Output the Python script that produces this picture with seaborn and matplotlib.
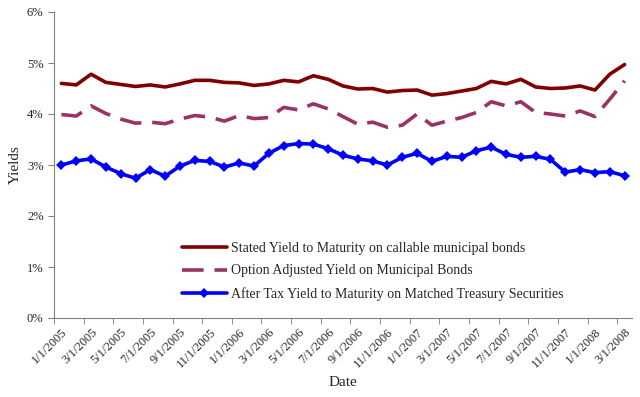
import numpy as np
import pandas as pd
import seaborn as sns
import matplotlib.pyplot as plt

months = pd.date_range("2005-01-01", "2008-03-01", freq="MS")
labels = [f"{d.month}/1/{d.year}" for d in months]

stated = [4.60, 4.57, 4.78, 4.62, 4.58, 4.54, 4.57, 4.53, 4.59, 4.66,
          4.66, 4.62, 4.61, 4.56, 4.59, 4.66, 4.63, 4.75, 4.68, 4.55,
          4.49, 4.50, 4.43, 4.46, 4.47, 4.37, 4.40, 4.45, 4.50, 4.64,
          4.59, 4.68, 4.53, 4.50, 4.51, 4.55, 4.47, 4.78, 4.97]
option_adj = [3.99, 3.96, 4.16, 4.01, 3.90, 3.82, 3.84, 3.81, 3.90, 3.97,
              3.94, 3.86, 3.97, 3.91, 3.93, 4.13, 4.08, 4.20, 4.10, 3.95,
              3.80, 3.84, 3.74, 3.78, 4.00, 3.78, 3.86, 3.93, 4.03, 4.24,
              4.16, 4.24, 4.03, 4.00, 3.96, 4.06, 3.95, 4.29, 4.65]
after_tax = [3.00, 3.08, 3.12, 2.96, 2.83, 2.74, 2.91, 2.78, 2.98, 3.09,
             3.07, 2.96, 3.04, 2.98, 3.23, 3.38, 3.42, 3.41, 3.32, 3.19,
             3.12, 3.08, 3.00, 3.15, 3.23, 3.07, 3.17, 3.15, 3.28, 3.35,
             3.21, 3.15, 3.17, 3.11, 2.86, 2.91, 2.85, 2.87, 2.79]

names = ["Stated Yield to Maturity on callable municipal bonds",
         "Option Adjusted Yield on Municipal Bonds",
         "After Tax Yield to Maturity on Matched Treasury Securities"]

sns.set_style("white")
plt.rcParams['font.family'] = ['Liberation Serif', 'DejaVu Serif']

fig = plt.figure(figsize=(6.4, 3.97), dpi=100)
ax = fig.add_axes([54 / 640, 1 - 318 / 397, 578 / 640, 306 / 397])

x = np.arange(len(months))
sns.lineplot(x=x, y=np.array(stated) / 100, ax=ax, color="#800000",
             linewidth=2.6, label=names[0])
sns.lineplot(x=x, y=np.array(option_adj) / 100, ax=ax, color="#993366",
             linewidth=2.6, label=names[1], dashes=False)
ax.lines[-1].set_dashes([6, 3])
sns.lineplot(x=x, y=np.array(after_tax) / 100, ax=ax, color="#0000FF",
             linewidth=2.6, marker="D", markersize=5, markeredgewidth=0,
             label=names[2])

ax.set_xlim(-0.5, len(months) - 0.5)
ax.set_ylim(0, 0.06)
ax.set_yticks(np.arange(0, 0.061, 0.01))
ax.set_yticklabels([f"{i}%" for i in range(7)], fontsize=9)
ax.set_xticks(x[::2])
ax.set_xticklabels(labels[::2], rotation=45, ha="right",
                   rotation_mode="anchor", fontsize=9)
ax.set_xticks(np.arange(-0.5, len(months), 2), minor=True)
ax.tick_params(axis="x", which="major", length=0, pad=6)
ax.tick_params(axis="x", which="minor", length=4, color="#808080",
               direction="out", bottom=True)
ax.tick_params(axis="y", length=4, color="#808080", direction="out",
               left=True)
ax.set_xlabel("Date", fontsize=11)
ax.set_ylabel("Yields", fontsize=11)

for side in ["top", "right"]:
    ax.spines[side].set_visible(False)
for side in ["left", "bottom"]:
    ax.spines[side].set_color("#808080")
    ax.spines[side].set_linewidth(0.8)

ax.legend(loc="lower left", bbox_to_anchor=(0.2, 0.015), frameon=False,
          fontsize=10, handlelength=3.2, labelspacing=0.7,
          handletextpad=0.3)

fig.savefig("out.png", dpi=100)
